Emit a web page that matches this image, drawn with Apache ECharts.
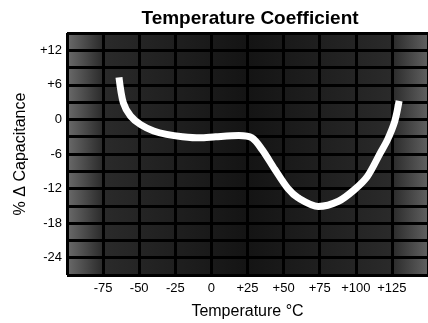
<!DOCTYPE html>
<html>
<head>
<meta charset="utf-8">
<script src="https://cdn.jsdelivr.net/npm/echarts@6/dist/echarts.min.js"></script>
<style>
  html, body { margin: 0; padding: 0; background: #fff; }
  #chart { width: 428px; height: 323px; }
</style>
</head>
<body>
<div id="chart"></div>
<script>
// curve: temperature (°C) -> % change in capacitance
var temps = [-64, -61, -56, -49, -40, -31, -20, -8, 3, 19, 28, 35, 44, 53, 60, 74, 88, 99, 108, 117, 122, 127, 130]
var capChange = [7.3, 2.9, 0.6, -0.9, -2.0, -2.6, -3.0, -3.2, -3.0, -2.8, -3.2, -5.2, -8.7, -12.0, -13.6, -15.1, -14.2, -12.2, -9.9, -5.8, -3.5, -0.3, 3.2]
var yTicks = [12, 6, 0, -6, -12, -18, -24]

var points = []
for (var i = 0; i < temps.length; i++) {
  points.push([temps[i], capChange[i]])
}

function signed (v) {
  return v > 0 ? '+' + v : '' + v
}

var myChart = echarts.init(document.getElementById('chart'))
var option = {
  animation: false,
  title: {
    text: 'Temperature Coefficient',
    left: 245,
    textAlign: 'center',
    top: 4,
    textStyle: {
      fontFamily: 'Liberation Sans',
      fontSize: 19,
      fontWeight: 'bold',
      color: '#000'
    }
  },
  grid: {
    left: 67,
    right: 0,
    top: 33,
    bottom: 48,
    outerBoundsMode: 'none',
    show: true,
    backgroundColor: {
      type: 'linear', x: 0, y: 0, x2: 1, y2: 0,
      colorStops: [
        { offset: 0, color: '#6a6a6a' },
        { offset: 0.1, color: '#2a2a2a' },
        { offset: 0.5, color: '#141414' },
        { offset: 0.9, color: '#2a2a2a' },
        { offset: 1, color: '#606060' }
      ]
    },
    borderWidth: 0
  },
  xAxis: {
    type: 'value',
    min: -100,
    max: 150,
    interval: 25,
    name: 'Temperature °C',
    nameLocation: 'middle',
    nameGap: 29,
    nameTextStyle: { fontFamily: 'Liberation Sans', fontSize: 16, color: '#000' },
    axisLine: { show: false },
    axisTick: { show: false },
    axisLabel: {
      showMinLabel: false,
      showMaxLabel: false,
      margin: 7,
      fontFamily: 'Liberation Sans',
      fontSize: 13,
      color: '#000',
      formatter: signed
    },
    splitLine: { show: true, lineStyle: { color: '#000', width: 3 } }
  },
  yAxis: {
    type: 'value',
    min: -27,
    max: 15,
    interval: 3,
    name: '% Δ Capacitance',
    nameLocation: 'middle',
    nameGap: 30,
    nameTextStyle: { fontFamily: 'Liberation Sans', fontSize: 16, color: '#000' },
    axisLine: { show: false },
    axisTick: { show: false },
    axisLabel: {
      margin: 5,
      fontFamily: 'Liberation Sans',
      fontSize: 13,
      color: '#000',
      formatter: function (v) {
        return yTicks.indexOf(v) >= 0 ? signed(v) : ''
      }
    },
    splitLine: { show: true, lineStyle: { color: '#000', width: 3 } }
  },
  series: [{
    type: 'line',
    data: points,
    smooth: 0.3,
    symbol: 'none',
    lineStyle: { color: '#fff', width: 7 }
  }]
}
myChart.setOption(option, true)
</script>
</body>
</html>
